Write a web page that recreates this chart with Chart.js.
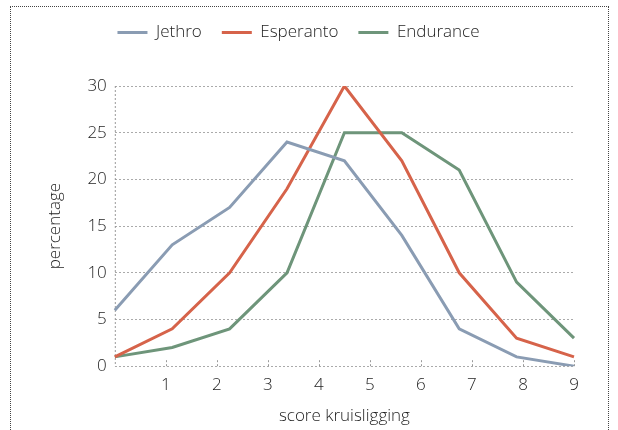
<!DOCTYPE html>
<html>
<head>
<meta charset="utf-8">
<script src="https://cdn.jsdelivr.net/npm/chart.js@4/dist/chart.umd.min.js"></script>
<style>
  body { margin: 0; background: #fff; }
  .frame {
    position: absolute; left: 10px; top: 6px; width: 597px; height: 450px;
    border: 1px dotted #444;
  }
  canvas { position: absolute; left: 0; top: 0; }
</style>
</head>
<body>
<div class="frame"></div>
<canvas id="myChart" width="618" height="430"></canvas>
<script>
const groups = ["g1", "g2", "g3", "g4", "g5", "g6", "g7", "g8", "g9"];
const xTickLabels = [1, 2, 3, 4, 5, 6, 7, 8, 9];
const yTickLabels = [0, 5, 10, 15, 20, 25, 30];

const jethro = [6, 13, 17, 24, 22, 14, 4, 1, 0];
const esperanto = [1, 4, 10, 19, 30, 22, 10, 3, 1];
const endurance = [1, 2, 4, 10, 25, 25, 21, 9, 3];

const font = "Open Sans";
const textColor = "#1e1e1e";

// dotted left axis + little tick marks on the x axis
const axisMarks = {
  id: "axisMarks",
  beforeDatasetsDraw(chart) {
    const { ctx, chartArea } = chart;
    const sc = chart.scales.xTicks;
    ctx.save();
    ctx.strokeStyle = "#999";
    ctx.lineWidth = 1;
    ctx.setLineDash([2, 2]);
    ctx.beginPath();
    ctx.moveTo(chartArea.left + 0.5, chartArea.top);
    ctx.lineTo(chartArea.left + 0.5, chartArea.bottom);
    sc.ticks.forEach((t) => {
      const x = Math.round(sc.getPixelForValue(t.value)) + 0.5;
      ctx.moveTo(x, chartArea.bottom);
      ctx.lineTo(x, chartArea.bottom - 6);
    });
    ctx.stroke();
    ctx.restore();
  },
};

// extra room under the legend, legend sits a bit left of centre
const legendGap = {
  id: "legendGap",
  beforeInit(chart) {
    const fit = chart.legend.fit;
    chart.legend.fit = function () {
      fit.bind(chart.legend)();
      this.height += 35;
    };
  },
  afterLayout(chart) {
    chart.legend.right -= 22;
  },
};

const mkSet = (label, data, color) => ({
  label: label,
  data: data,
  borderColor: color,
  backgroundColor: color,
  borderWidth: 3,
  pointRadius: 0,
  tension: 0,
  xAxisID: "x",
});

const tickFont = { family: font, size: 17, weight: 300 };
const titleFont = { family: font, size: 17, weight: 300 };

new Chart(document.getElementById("myChart").getContext("2d"), {
  type: "line",
  data: {
    labels: groups,
    datasets: [
      mkSet("Jethro", jethro, "#8a9cb3"),
      mkSet("Esperanto", esperanto, "#d6634a"),
      mkSet("Endurance", endurance, "#6e957a"),
    ],
  },
  options: {
    responsive: false,
    animation: false,
    layout: { padding: { left: 45, right: 44, top: 4, bottom: 4 } },
    plugins: {
      legend: {
        position: "top",
        labels: {
          usePointStyle: true,
          pointStyle: "line",
          pointStyleWidth: 30,
          padding: 20,
          color: textColor,
          font: { family: font, size: 17, weight: 300 },
        },
      },
      tooltip: { enabled: false },
    },
    scales: {
      x: { type: "category", display: false, offset: false },
      xTicks: {
        type: "linear",
        position: "bottom",
        min: 0,
        max: 9,
        afterBuildTicks: (axis) => {
          axis.ticks = xTickLabels.map((v) => ({ value: v }));
        },
        grid: { display: false },
        border: { display: false },
        ticks: { color: textColor, font: tickFont, padding: 1, maxRotation: 0 },
        title: {
          display: true,
          text: "score kruisligging",
          color: textColor,
          font: titleFont,
          padding: { top: 9, bottom: 0 },
        },
      },
      y: {
        min: 0,
        max: 30,
        afterBuildTicks: (axis) => {
          axis.ticks = yTickLabels.map((v) => ({ value: v }));
        },
        grid: { color: "#aaa", drawTicks: false },
        border: { display: false, dash: [2, 2] },
        ticks: { color: textColor, font: tickFont, padding: 8 },
        title: {
          display: true,
          text: "percentage",
          color: textColor,
          font: titleFont,
          padding: { top: 0, bottom: 14 },
        },
      },
    },
  },
  plugins: [axisMarks, legendGap],
});
</script>
</body>
</html>
